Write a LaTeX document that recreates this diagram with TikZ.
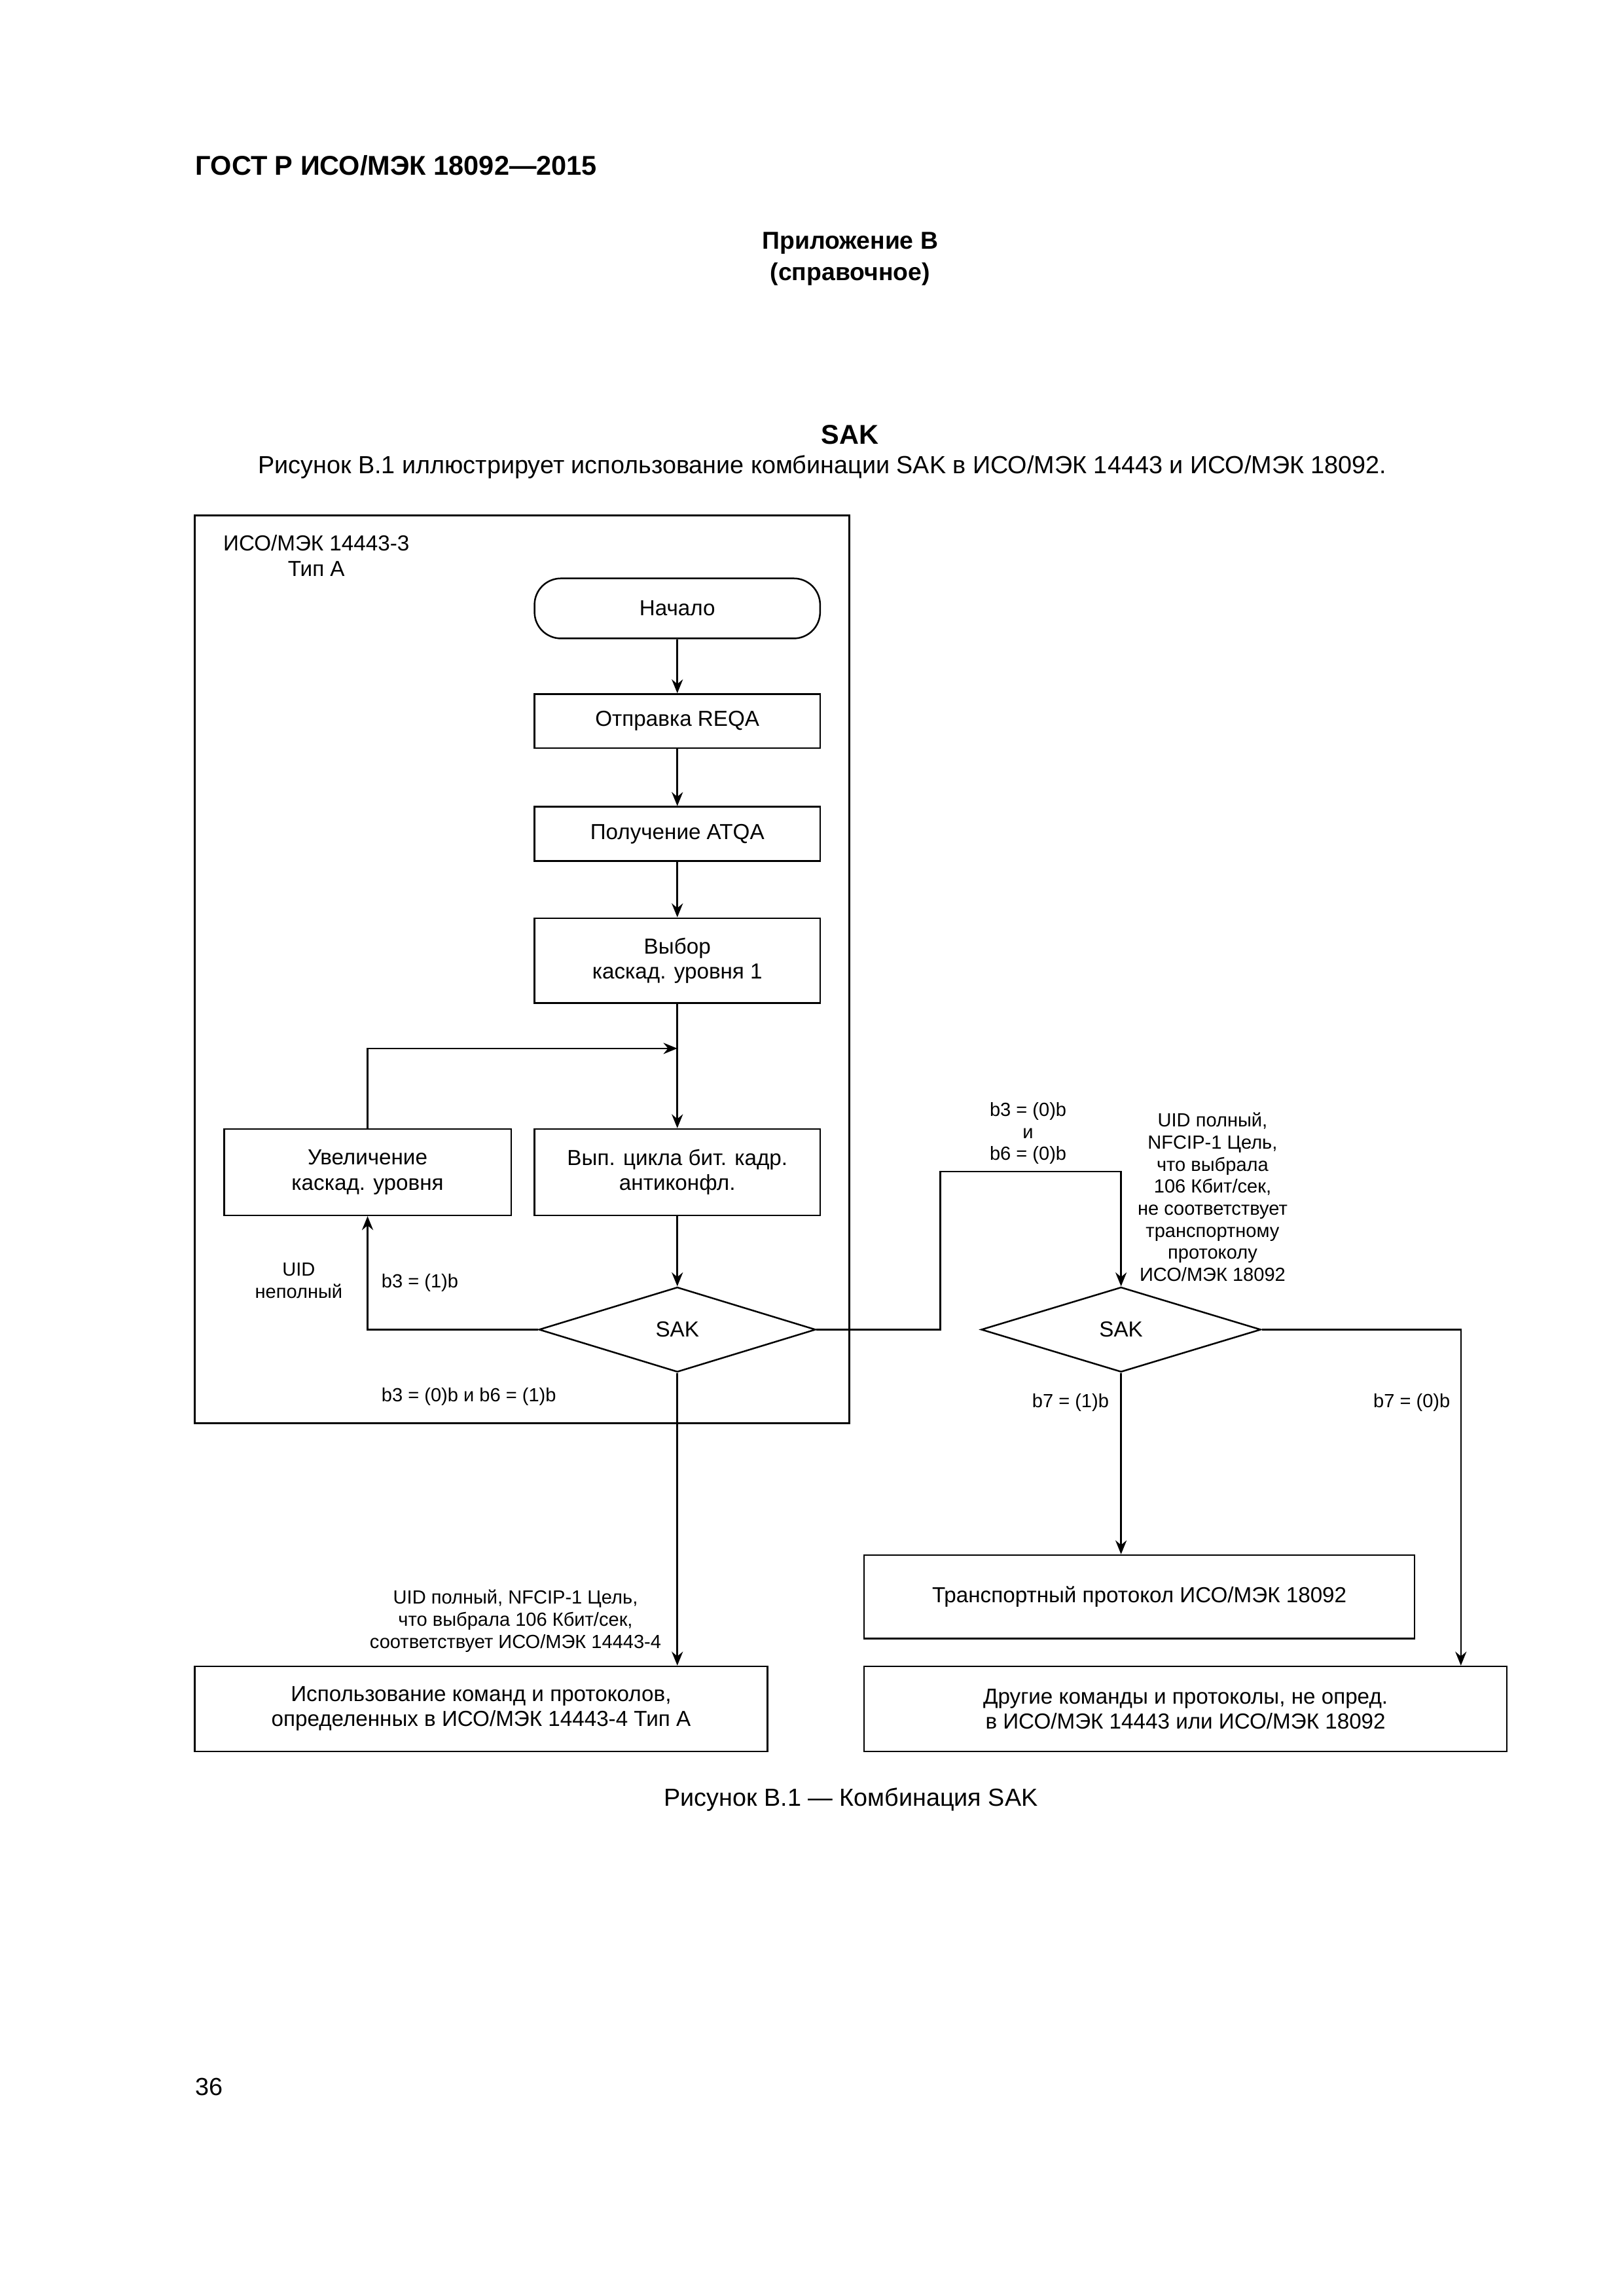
\documentclass[tikz,border=0pt]{standalone}
\usepackage{fontspec}
\setmainfont{Liberation Sans}
\usetikzlibrary{shapes.geometric,arrows.meta,calc}
\newcommand{\pxu}{0.18941mm}
\begin{document}
\begin{tikzpicture}[x=\pxu,y=-\pxu,
  line width=0.6pt,
  arr/.style={-{Stealth[length=1.8mm,width=1.45mm,inset=0.6mm]}},
  box/.style={draw,inner sep=0pt,align=center,font=\fontsize{8}{9.2}\selectfont},
  term/.style={box,rounded corners=18*\pxu},
  dec/.style={draw,diamond,inner sep=0pt,aspect=3.2,font=\fontsize{8}{9.2}\selectfont},
  lbl/.style={inner sep=0pt,align=center,font=\fontsize{7}{8.1}\selectfont},
  txt/.style={inner sep=0pt,align=center,font=\fontsize{9.1}{11}\selectfont},
  hd/.style={inner sep=0pt,align=center,font=\fontsize{10}{12}\selectfont\bfseries}]
\useasboundingbox (0,0) rectangle (1108.7,1568);
% page texts
\node[hd,anchor=west] (gost) at (133,113) {ГОСТ Р ИСО/МЭК 18092—2015};
\node[hd,font=\fontsize{9}{11}\selectfont\bfseries] (app) at (580.5,166) {Приложение В};
\node[hd,font=\fontsize{9}{11}\selectfont\bfseries] (appb) at (580.5,187) {(справочное)};
\node[hd] (sakh) at (580.5,297) {SAK};
\node[txt] (intro) at (561.5,319) {Рисунок В.1 иллюстрирует использование комбинации SAK в ИСО/МЭК 14443 и ИСО/МЭК 18092.};
% frame
\node[draw,inner sep=0pt,minimum width=447*\pxu,minimum height=620*\pxu] (frame) at (356.5,662) {};
\node[box,draw=none] (ftitle) at (216,379.5) {ИСО/МЭК 14443-3\\Тип А};
% nodes
\node[term,minimum width=195*\pxu,minimum height=41*\pxu] (start) at (462.5,415.5) {Начало};
\node[box,minimum width=195*\pxu,minimum height=37*\pxu] (reqa) at (462.5,492.5) {Отправка REQA};
\node[box,minimum width=195*\pxu,minimum height=37*\pxu] (atqa) at (462.5,569.5) {Получение ATQA};
\node[box,minimum width=195*\pxu,minimum height=58*\pxu] (sel) at (462.5,656) {Выбор\\каскад. уровня 1};
\node[box,minimum width=196*\pxu,minimum height=59*\pxu] (inc) at (251,800.5) {Увеличение\\каскад. уровня};
\node[box,minimum width=195*\pxu,minimum height=59*\pxu] (anti) at (462.5,800.5) {Вып. цикла бит. кадр.\\антиконфл.};
\node[dec,minimum width=189*\pxu,minimum height=58*\pxu] (sak1) at (462.5,908) {SAK};
\node[dec,minimum width=191*\pxu,minimum height=58*\pxu] (sak2) at (765.5,908) {SAK};
\node[box,minimum width=391*\pxu,minimum height=58*\pxu] (use) at (328.5,1167) {Использование команд и протоколов,\\определенных в ИСО/МЭК 14443-4 Тип А};
\node[box,minimum width=376*\pxu,minimum height=57*\pxu] (trans) at (778,1090.5) {Транспортный протокол ИСО/МЭК 18092};
\node[box,minimum width=439*\pxu,minimum height=58*\pxu] (other) at (809.5,1167) {Другие команды и протоколы, не опред.\\в ИСО/МЭК 14443 или ИСО/МЭК 18092};
\coordinate (junc) at (462.5,716);
\coordinate (bend) at (642,800);
% connectors
\draw[arr] (start) -- (reqa);
\draw[arr] (reqa) -- (atqa);
\draw[arr] (atqa) -- (sel);
\draw[arr] (sel) -- (anti);
\draw[arr] (inc.north) |- (junc);
\draw[arr] (anti) -- (sak1);
\draw[arr] (sak1.west) -| (inc.south);
\draw[arr] (sak1.south) -- (sak1.south |- use.north);
\draw[arr] (sak1.east) -| (bend) -| (sak2.north);
\draw[arr] (sak2.south) -- (sak2.south |- trans.north);
\draw[arr] (sak2.east) -| ($(other.north east)+(-32,0)$);
% labels
\node[lbl] (l1) at (204,874.5) {UID\\неполный};
\node[lbl,anchor=west] (l2) at (260,876) {b3 = (1)b};
\node[lbl,anchor=west] (l3) at (260,954) {b3 = (0)b и b6 = (1)b};
\node[lbl] (l4) at (352,1107) {UID полный, NFCIP-1 Цель,\\что выбрала 106 Кбит/сек,\\соответствует ИСО/МЭК 14443-4};
\node[lbl] (l5) at (702,774) {b3 = (0)b\\и\\b6 = (0)b};
\node[lbl] (l6) at (828,817.5) {UID полный,\\NFCIP-1 Цель,\\что выбрала\\106 Кбит/сек,\\не соответствует\\транспортному\\протоколу\\ИСО/МЭК 18092};
\node[lbl] (l7) at (731,958) {b7 = (1)b};
\node[lbl] (l8) at (964,958) {b7 = (0)b};
% caption
\node[txt] (cap) at (581,1229) {Рисунок В.1 — Комбинация SAK};
\node[txt,anchor=west] (pg) at (133,1425) {36};
\end{tikzpicture}
\end{document}
